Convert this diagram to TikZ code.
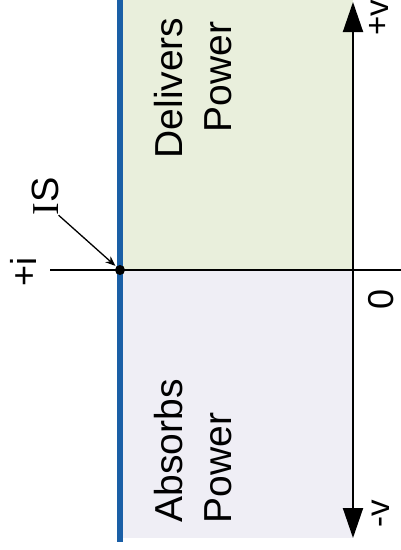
\documentclass[tikz,border=0pt]{standalone}
\usepackage{fontspec}
\setmainfont{Liberation Sans}
\newfontfamily\serifI{Liberation Serif}
\usetikzlibrary{arrows.meta}
\definecolor{greenbg}{HTML}{E9EFDC}
\definecolor{lavbg}{HTML}{EFEEF5}
\definecolor{bluelin}{HTML}{1A5FA6}
\begin{document}
\begin{tikzpicture}[x=1pt,y=-1pt,
  lbl/.style={rotate=90,anchor=base,inner sep=0pt,font=\fontsize{39}{47}\selectfont},
  axlbl/.style={rotate=90,anchor=base,inner sep=0pt,font=\fontsize{33}{40}\selectfont},
  axis/.style={line width=2pt,black},
  bigtip/.style={Triangle[width=20pt,length=30pt]}]
\useasboundingbox (0,0) rectangle (401,550);
\fill[greenbg] (122,0) rectangle (353,270);
\fill[lavbg] (122,270) rectangle (353,538);
\coordinate (vtop) at (353,2);
\coordinate (vbot) at (353,538);
\coordinate (hl) at (50,270);
\coordinate (hr) at (401,270);
\coordinate (bt) at (120,0);
\coordinate (bb) at (120,542);
\draw[line width=6pt,bluelin] (bt) -- (bb);
\draw[axis,{Triangle[width=20pt,length=30pt]}-{Triangle[width=20pt,length=30pt]}] (vbot) -- (vtop);
\draw[axis,line width=1.8pt] (hl) -- (hr);
\node[circle,fill=black,inner sep=0pt,minimum size=10pt] (dot) at (120,270) {};
\node[lbl] (del) at (182,88) {Delivers};
\node[lbl] (pw1) at (231,77) {Power};
\node[lbl] (abs) at (182,451) {Absorbs};
\node[lbl] (pw2) at (231,468) {Power};
\node[axlbl,font=\fontsize{36}{40}\selectfont] (ip) at (37,272) {+i};
\node[lbl,font=\fontsize{38}{44}\selectfont] (is) at (58,196) {{\serifI I}S};
\node[axlbl,font=\fontsize{36}{40}\selectfont] (zero) at (393,299) {0};
\node[axlbl] (vp) at (388,18) {+v};
\node[axlbl] (vm) at (389,514) {-v};
\draw[line width=1.3pt,-{Stealth[length=10pt,width=8pt]},shorten >=1pt] (is.south west) -- (dot);
\end{tikzpicture}
\end{document}
